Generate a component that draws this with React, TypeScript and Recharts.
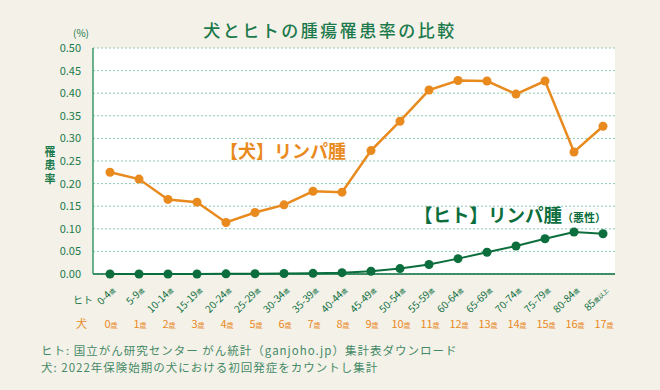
import { CartesianGrid, Line, LineChart, XAxis, YAxis } from "recharts";

const humanAges = ["0-4", "5-9", "10-14", "15-19", "20-24", "25-29", "30-34", "35-39", "40-44", "45-49", "50-54", "55-59", "60-64", "65-69", "70-74", "75-79", "80-84", "85"];
const dogAges = ["0", "1", "2", "3", "4", "5", "6", "7", "8", "9", "10", "11", "12", "13", "14", "15", "16", "17"];
const dogRates = [0.225, 0.21, 0.165, 0.159, 0.114, 0.136, 0.153, 0.183, 0.181, 0.273, 0.338, 0.407, 0.428, 0.427, 0.398, 0.427, 0.27, 0.327];
const humanRates = [0, 0, 0, 0, 0.0003, 0.0005, 0.001, 0.0015, 0.003, 0.006, 0.012, 0.021, 0.034, 0.048, 0.062, 0.078, 0.093, 0.089];
const yTicks = [0, 0.05, 0.1, 0.15, 0.2, 0.25, 0.3, 0.35, 0.4, 0.45, 0.5];

const ORANGE = "#e98a1e";
const GREEN = "#0b6e3c";
const TEXT_GREEN = "#1b7a4b";
const FONT = "'Noto Sans CJK JP', 'Noto Sans', sans-serif";

const data = humanAges.map((h, i) => ({ h, d: dogAges[i], dog: dogRates[i], human: humanRates[i] }));

function XTick({ x, y, payload, index }: any) {
  const last = index === humanAges.length - 1;
  const dog = dogAges[index];
  return (
    <g>
      <text
        x={x + 6}
        y={y + 9}
        transform={`rotate(-45 ${x + 6} ${y + 9})`}
        textAnchor="end"
        fontSize={10}
        fill={GREEN}
        fontFamily={FONT}
      >
        {payload.value}
        <tspan fontSize={6}>{last ? "歳以上" : "歳"}</tspan>
      </text>
      <text x={x + 1} y={y + 46} textAnchor="middle" fontSize={11} fill={ORANGE} fontFamily={FONT}>
        {dog}
        <tspan fontSize={7}>歳</tspan>
      </text>
    </g>
  );
}

function YTick({ x, y, payload }: any) {
  return (
    <text x={x - 4} y={y + 4} textAnchor="end" fontSize={11} fill={TEXT_GREEN} fontFamily={FONT}>
      {payload.value.toFixed(2)}
    </text>
  );
}

const noteStyle = {
  position: "absolute" as const,
  left: 41,
  fontSize: 11.5,
  lineHeight: "14px",
  letterSpacing: 1,
  color: "#458a66",
  whiteSpace: "nowrap" as const,
};

export default function App() {
  return (
    <div style={{ position: "absolute", left: 0, top: 0, width: 660, height: 390, background: "#f4f1e9", fontFamily: FONT }}>
      <div style={{ position: "absolute", left: 0, top: 17, width: 660, textAlign: "center", fontSize: 17, fontWeight: 500, letterSpacing: 2.5, color: TEXT_GREEN }}>
        犬とヒトの腫瘍罹患率の比較
      </div>
      <div style={{ position: "absolute", left: 73, top: 25, fontSize: 10, color: TEXT_GREEN }}>(%)</div>
      <div style={{ position: "absolute", left: 42, top: 146, fontSize: 11, fontWeight: 700, letterSpacing: 2.5, writingMode: "vertical-rl", color: TEXT_GREEN }}>
        罹患率
      </div>
      <div style={{ position: "absolute", left: 73, top: 292, fontSize: 10, color: TEXT_GREEN }}>ヒト</div>
      <div style={{ position: "absolute", left: 76, top: 315, fontSize: 11, color: ORANGE }}>犬</div>
      <LineChart width={660} height={390} data={data} margin={{ top: 48, right: 45, bottom: 56, left: 0 }}>
        <CartesianGrid vertical={false} fill="#ffffff" stroke="#8ccab4" strokeDasharray="2 2" />
        <XAxis
          dataKey="h"
          interval={0}
          height={60}
          padding={{ left: 17, right: 12 }}
          axisLine={{ stroke: GREEN, strokeWidth: 1.5 }}
          tickLine={false}
          tick={<XTick />}
        />
        <YAxis
          width={93}
          domain={[0, 0.5]}
          ticks={yTicks}
          interval={0}
          axisLine={{ stroke: "#3a9a68", strokeWidth: 1.5 }}
          tickLine={false}
          tick={<YTick />}
        />
        <Line dataKey="dog" stroke={ORANGE} strokeWidth={2.5} dot={{ r: 4.5, fill: ORANGE, stroke: ORANGE, strokeWidth: 0 }} isAnimationActive={false} />
        <Line dataKey="human" stroke={GREEN} strokeWidth={2} dot={{ r: 4.5, fill: GREEN, stroke: GREEN, strokeWidth: 0 }} isAnimationActive={false} />
      </LineChart>
      <div style={{ position: "absolute", left: 220, top: 137, fontSize: 18, fontWeight: 700, color: ORANGE, whiteSpace: "nowrap" }}>
        【犬】リンパ腫
      </div>
      <div style={{ position: "absolute", left: 414, top: 201, fontSize: 18.5, fontWeight: 700, color: GREEN, whiteSpace: "nowrap" }}>
        【ヒト】リンパ腫<span style={{ fontSize: 11 }}>（悪性）</span>
      </div>
      <div style={{ ...noteStyle, top: 343 }}>ヒト: 国立がん研究センター がん統計（ganjoho.jp）集計表ダウンロード</div>
      <div style={{ ...noteStyle, top: 360 }}>犬: 2022年保険始期の犬における初回発症をカウントし集計</div>
    </div>
  );
}
